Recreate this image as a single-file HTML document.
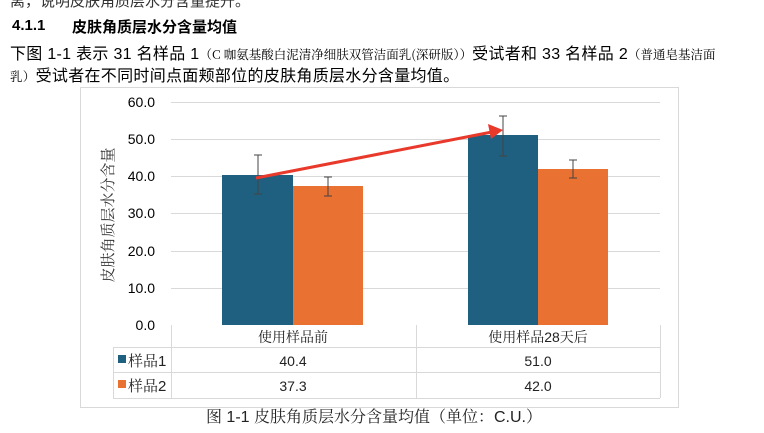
<!DOCTYPE html><html><head><meta charset="utf-8"><style>
body{margin:0;width:764px;height:433px;background:#fff;overflow:hidden;position:relative;font-family:"Liberation Sans","Noto Sans CJK SC",sans-serif;color:#000}
.t{position:absolute;white-space:nowrap}
</style></head><body>
<div class="t" style="left:10px;top:-10px;font-size:15px;color:#333">离，说明皮肤角质层水分含量提升。</div>
<div class="t" style="left:12px;top:17px;font-size:15px;font-weight:bold">4.1.1</div>
<div class="t" style="left:72px;top:16px;font-size:15px;font-weight:bold">皮肤角质层水分含量均值</div>
<div class="t" style="left:10px;top:40px;font-size:16px;letter-spacing:0.3px">下图 1-1 表示 31 名样品 1<span style="font-size:12.5px;font-family:'Noto Serif CJK SC',serif;letter-spacing:0">（C 咖氨基酸白泥清净细肤双管洁面乳(深研版））</span>受试者和 33 名样品 2<span style="font-size:12.5px;font-family:'Noto Serif CJK SC',serif;letter-spacing:0">（普通皂基洁面</span></div>
<div class="t" style="left:10px;top:62px;font-size:16px;letter-spacing:0.3px"><span style="font-size:12.5px;font-family:'Noto Serif CJK SC',serif">乳）</span>受试者在不同时间点面颊部位的皮肤角质层水分含量均值。</div>
<svg style="position:absolute;left:0;top:0" width="764" height="433">
<rect x="80.5" y="87.5" width="598" height="320" fill="none" stroke="#d9d9d9"/>
<g stroke="#d9d9d9">
<line x1="171" x2="660" y1="102.5" y2="102.5"/><line x1="171" x2="660" y1="139.5" y2="139.5"/>
<line x1="171" x2="660" y1="176.5" y2="176.5"/><line x1="171" x2="660" y1="213.5" y2="213.5"/>
<line x1="171" x2="660" y1="251.5" y2="251.5"/><line x1="171" x2="660" y1="288.5" y2="288.5"/>
</g>
<g font-size="14" text-anchor="end" fill="#000" font-family="Liberation Sans">
<text x="155" y="107">60.0</text><text x="155" y="144">50.0</text><text x="155" y="181">40.0</text>
<text x="155" y="218">30.0</text><text x="155" y="256">20.0</text><text x="155" y="293">10.0</text><text x="155" y="330">0.0</text>
</g>
<text transform="translate(113,215) rotate(-90)" text-anchor="middle" font-size="15" fill="#333" font-family="Noto Serif CJK SC">皮肤角质层水分含量</text>
<rect x="222" y="175" width="71" height="150" fill="#1f5f80"/>
<rect x="293" y="186" width="70" height="139" fill="#e97132"/>
<rect x="468" y="135" width="70" height="190" fill="#1f5f80"/>
<rect x="538" y="169" width="70" height="156" fill="#e97132"/>
<g stroke="#444" stroke-width="1">
<path d="M258 155V194M254 155h8M254 194h8"/>
<path d="M328 177V196M324 177h8M324 196h8"/>
<path d="M503 116V156M499 116h8M499 156h8"/>
<path d="M573 160V178M569 160h8M569 178h8"/>
</g>
<line x1="256" y1="178" x2="492" y2="132" stroke="#e8392b" stroke-width="3"/>
<polygon points="503,130 488,124 491,139" fill="#e8392b"/>
<g stroke="#d9d9d9" fill="none">
<path d="M171.5 325V398M416.5 325V398M660.5 325V398M113.5 347V398M113 347.5H660M113 372.5H660M113 398.5H660"/>
</g>
<g font-size="14" text-anchor="middle" fill="#222" font-family="Liberation Sans, Noto Serif CJK SC">
<text x="293" y="342">使用样品前</text><text x="538" y="342">使用样品28天后</text>
<text x="293" y="366">40.4</text><text x="538" y="366">51.0</text>
<text x="293" y="391">37.3</text><text x="538" y="391">42.0</text>
</g>
<rect x="118" y="355" width="8" height="8" fill="#1f5f80"/><rect x="118" y="380" width="8" height="8" fill="#e97132"/>
<text x="128" y="366" font-size="15" fill="#222" font-family="Liberation Sans, Noto Serif CJK SC">样品1</text>
<text x="128" y="391" font-size="15" fill="#222" font-family="Liberation Sans, Noto Serif CJK SC">样品2</text>
<text x="374" y="422" text-anchor="middle" font-size="16" fill="#222" font-family="Liberation Sans, Noto Serif CJK SC">图 1-1 皮肤角质层水分含量均值（单位：C.U.）</text>
</svg>
</body></html>
